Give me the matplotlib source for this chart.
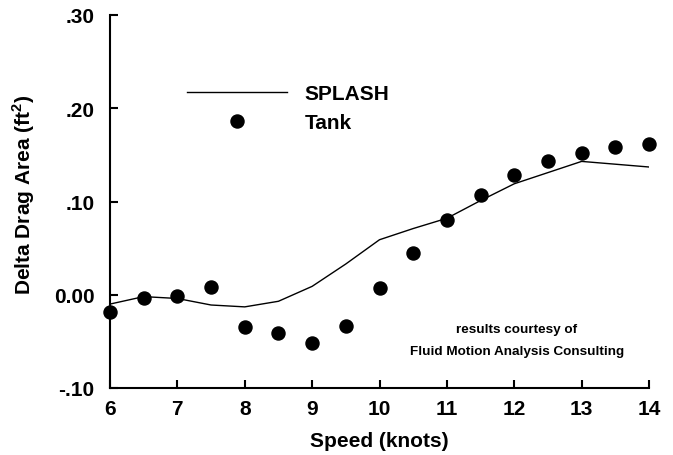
import numpy as np
import matplotlib
matplotlib.use("Agg")
from matplotlib import pyplot as plt

plt.rcParams['font.family'] = ['Liberation Sans', 'DejaVu Sans']
plt.rcParams['font.weight'] = 'bold'
plt.rcParams['mathtext.fontset'] = 'custom'
plt.rcParams['mathtext.rm'] = 'Liberation Sans:bold'
plt.rcParams['mathtext.bf'] = 'Liberation Sans:bold'

# SPLASH prediction (line)
splash_speed = [6, 6.5, 7, 7.5, 8, 8.5, 9, 9.5, 10, 10.5, 11, 11.5, 12, 12.5, 13, 13.5, 14]
splash_area = [-0.010, -0.002, -0.004, -0.011, -0.013, -0.007, 0.009, 0.033, 0.059,
               0.071, 0.082, 0.101, 0.119, 0.131, 0.143, 0.140, 0.137]

# tank measurements (dots)
tank_speed = [6, 6.5, 7, 7.5, 8, 8.5, 9, 9.5, 10, 10.5, 11, 11.5, 12, 12.5, 13, 13.5, 14]
tank_area = [-0.018, -0.003, -0.001, 0.008, -0.035, -0.041, -0.052, -0.033, 0.007,
             0.045, 0.080, 0.107, 0.128, 0.143, 0.152, 0.158, 0.162]

x_ticks = [6, 7, 8, 9, 10, 11, 12, 13, 14]
y_ticks = [-0.10, 0.00, 0.10, 0.20, 0.30]
y_labels = ['-.10', '0.00', '.10', '.20', '.30']

fs = 15
fig = plt.figure(figsize=(6.73, 4.56), dpi=100)
ax = fig.add_axes([110 / 673, 1 - 389 / 456, 539 / 673, 373 / 456])

ax.plot(splash_speed, splash_area, color='black', lw=1.0, label='SPLASH')
ax.plot(tank_speed, tank_area, 'o', color='black', ms=9.4, clip_on=False, label='Tank')

ax.set_xlim(6, 14)
ax.set_ylim(-0.10, 0.30)
ax.set_xticks(x_ticks)
ax.set_yticks(y_ticks)
ax.set_yticklabels(y_labels)
ax.tick_params(direction='in', width=1.5, length=6, labelsize=fs)
ax.tick_params(axis='y', pad=11)
ax.tick_params(axis='x', pad=8)
for s in ['top', 'right']:
    ax.spines[s].set_visible(False)
for s in ['left', 'bottom']:
    ax.spines[s].set_linewidth(1.5)

ax.set_xlabel('Speed (knots)', fontsize=fs, fontweight='bold', labelpad=9)
fig.text(24 / 673, 1 - 195 / 456, r'Delta Drag Area (ft$^{\mathbf{2}}$)', rotation=90,
         fontsize=fs, fontweight='bold', ha='center', va='center')

ax.legend(loc='upper left', bbox_to_anchor=(0.143, 0.815), frameon=False,
          fontsize=fs, handlelength=4.8, handletextpad=0.85, labelspacing=0.5,
          borderpad=0, borderaxespad=0, numpoints=1)

ax.text(0.755, 0.129, 'results courtesy of\nFluid Motion Analysis Consulting',
        transform=ax.transAxes, ha='center', va='center', fontsize=9.7,
        fontweight='bold', linespacing=2.1)

fig.savefig('out.png', dpi=100)
